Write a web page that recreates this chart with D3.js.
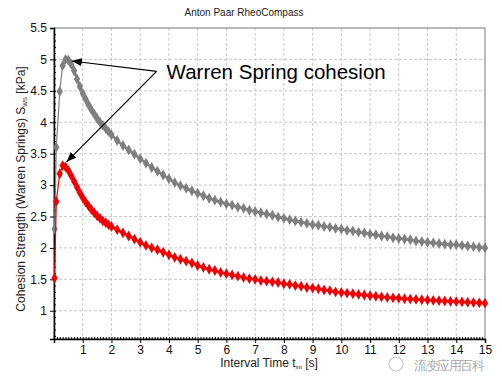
<!DOCTYPE html>
<meta charset="utf-8">
<script src="https://d3js.org/d3.v7.min.js"></script>
<style>
  body { margin: 0; background: #fff; }
  text { font-family: Arial, "Liberation Sans", sans-serif; }
</style>
<div id="chart"></div>
<script>

// interval time [s]
const times = [0.02, 0.08, 0.2, 0.3, 0.4, 0.5, 0.6, 0.7, 0.8, 0.9, 1.0, 1.1, 1.2, 1.3, 1.4, 1.5, 1.6, 1.7, 1.8, 1.9, 2.0,
  2.2, 2.4, 2.6, 2.8, 3.0, 3.2, 3.4, 3.6, 3.8, 4.0, 4.2, 4.4, 4.6, 4.8, 5.0, 5.2, 5.4, 5.6, 5.8, 6.0,
  6.2, 6.4, 6.6, 6.8, 7.0, 7.2, 7.4, 7.6, 7.8, 8.0, 8.2, 8.4, 8.6, 8.8, 9.0, 9.2, 9.4, 9.6, 9.8, 10.0,
  10.2, 10.4, 10.6, 10.8, 11.0, 11.2, 11.4, 11.6, 11.8, 12.0, 12.2, 12.4, 12.6, 12.8, 13.0, 13.2, 13.4, 13.6, 13.8, 14.0,
  14.2, 14.4, 14.6, 14.8, 15.0];

// cohesion strength [kPa], grey sample
const greySeries = [2.3, 3.6, 4.49, 4.90, 5.00, 4.99, 4.92, 4.82, 4.69, 4.57, 4.46, 4.37, 4.28, 4.20, 4.13, 4.06, 4.00, 3.95, 3.90, 3.85, 3.80,
  3.71, 3.63, 3.56, 3.49, 3.42, 3.35, 3.28, 3.22, 3.16, 3.10, 3.04, 2.99, 2.95, 2.91, 2.87, 2.83, 2.79, 2.76, 2.73, 2.70,
  2.68, 2.65, 2.63, 2.60, 2.58, 2.56, 2.54, 2.52, 2.49, 2.47, 2.45, 2.43, 2.41, 2.39, 2.37, 2.36, 2.34, 2.33, 2.31, 2.30,
  2.28, 2.27, 2.25, 2.24, 2.22, 2.21, 2.19, 2.18, 2.16, 2.15, 2.14, 2.13, 2.11, 2.10, 2.09, 2.08, 2.07, 2.06, 2.05, 2.05,
  2.04, 2.03, 2.02, 2.01, 2.00];

// cohesion strength [kPa], red sample
const redSeries = [1.52, 2.74, 3.18, 3.31, 3.29, 3.23, 3.15, 3.06, 2.97, 2.88, 2.80, 2.73, 2.67, 2.61, 2.56, 2.51, 2.47, 2.43, 2.40, 2.37, 2.34,
  2.29, 2.24, 2.19, 2.14, 2.09, 2.04, 2.00, 1.97, 1.93, 1.89, 1.85, 1.82, 1.79, 1.76, 1.72, 1.69, 1.66, 1.64, 1.61, 1.59,
  1.57, 1.55, 1.53, 1.51, 1.50, 1.48, 1.47, 1.46, 1.45, 1.43, 1.42, 1.40, 1.39, 1.37, 1.36, 1.35, 1.33, 1.32, 1.30, 1.29,
  1.28, 1.27, 1.26, 1.25, 1.24, 1.23, 1.22, 1.21, 1.205, 1.20, 1.19, 1.185, 1.18, 1.175, 1.17, 1.165, 1.16, 1.155, 1.15, 1.145,
  1.14, 1.135, 1.13, 1.125, 1.12];

const xTicks = [1, 2, 3, 4, 5, 6, 7, 8, 9, 10, 11, 12, 13, 14, 15];
const yTicks = [1, 1.5, 2, 2.5, 3, 3.5, 4, 4.5, 5, 5.5];

// annotation: label anchor and the two arrow tips, in data units
const noteFrom = [3.57, 4.81];
const noteTips = [[0.62, 4.975], [0.44, 3.37]];

const W = 502, H = 384;
const margin = {top: 28, right: 17, bottom: 45, left: 54};
const width = W - margin.left - margin.right,
      height = H - margin.top - margin.bottom;

const svg = d3.select("#chart").append("svg")
  .attr("width", W).attr("height", H);

svg.append("defs").append("marker")
    .attr("id", "arrow")
    .attr("markerUnits", "userSpaceOnUse")
    .attr("markerWidth", 10).attr("markerHeight", 8)
    .attr("viewBox", "0 0 10 8")
    .attr("refX", 10).attr("refY", 4)
    .attr("orient", "auto")
  .append("path")
    .attr("d", "M0,0 L10,4 L0,8 Z")
    .attr("fill", "#000");

const g = svg.append("g").attr("transform", `translate(${margin.left},${margin.top})`);

const x = d3.scaleLinear().domain([0, 15]).range([0, width]);
const y = d3.scaleLinear().domain([0.55, 5.5]).range([height, 0]);

// grid
g.append("g").selectAll("line").data(xTicks.slice(0, -1)).join("line")
  .attr("x1", d => x(d)).attr("x2", d => x(d))
  .attr("y1", 0).attr("y2", height)
  .attr("stroke", "#c8c8c8").attr("stroke-dasharray", "3,2");
g.append("g").selectAll("line").data(yTicks.slice(0, -1)).join("line")
  .attr("x1", 0).attr("x2", width)
  .attr("y1", d => y(d)).attr("y2", d => y(d))
  .attr("stroke", "#c8c8c8").attr("stroke-dasharray", "3,2");

// frame
g.append("rect")
  .attr("width", width).attr("height", height)
  .attr("fill", "none").attr("stroke", "#777").attr("stroke-width", 1);

// axes
const xAxis = g.append("g").attr("transform", `translate(0,${height})`)
  .call(d3.axisBottom(x).tickValues(xTicks).tickSize(4).tickFormat(d3.format("d")));
const xMinor = g.append("g").attr("transform", `translate(0,${height})`)
  .call(d3.axisTop(x).tickValues(d3.range(0.1, 15, 0.1)).tickSize(2).tickFormat(""));
const yAxis = g.append("g")
  .call(d3.axisLeft(y).tickValues(yTicks).tickSize(4).tickFormat(d => d));
const yMinor = g.append("g")
  .call(d3.axisRight(y).tickValues(d3.range(0.6, 5.5, 0.1)).tickSize(2).tickFormat(""));

[xAxis, yAxis].forEach(a => {
  a.select(".domain").attr("stroke", "#000").attr("stroke-width", 1.5);
  a.selectAll(".tick line").attr("stroke", "#000");
  a.selectAll("text").attr("font-size", 12).attr("fill", "#111")
    .attr("font-family", "Arial, 'Liberation Sans', sans-serif");
});
xAxis.selectAll("text").attr("y", 6).attr("dy", "0.71em");
[xMinor, yMinor].forEach(a => {
  a.select(".domain").remove();
  a.selectAll(".tick line").attr("stroke", "#000");
});

// series
const series = [
  {name: "grey", values: greySeries, color: "#7f7f7f"},
  {name: "red", values: redSeries, color: "#f00000"}
];
const line = d3.line().x((d, i) => x(times[i])).y(d => y(d));
const diamond = d3.symbol().type(d3.symbolDiamond).size(34);

series.forEach(s => {
  // thin connector for the rising part, thicker band for the decay
  g.append("path")
    .attr("d", line(s.values.slice(0, 4)))
    .attr("fill", "none").attr("stroke", s.color).attr("stroke-width", 1.2);
  const tail = s.values.slice(3);
  g.append("path")
    .attr("d", d3.line().x((d, i) => x(times[i + 3])).y(d => y(d))(tail))
    .attr("fill", "none").attr("stroke", s.color).attr("stroke-width", 2.6);
  g.append("g").selectAll("path").data(s.values).join("path")
    .attr("transform", (d, i) => `translate(${x(times[i])},${y(d)})`)
    .attr("d", diamond)
    .attr("fill", s.color);
});

// annotation
noteTips.forEach(t => {
  g.append("line")
    .attr("x1", x(noteFrom[0])).attr("y1", y(noteFrom[1]))
    .attr("x2", x(t[0])).attr("y2", y(t[1]))
    .attr("stroke", "#000").attr("stroke-width", 1.2)
    .attr("marker-end", "url(#arrow)");
});
g.append("text")
  .attr("x", x(noteFrom[0]) + 10).attr("y", y(noteFrom[1]) + 8)
  .attr("font-size", 20.5).attr("fill", "#000")
  .text("Warren Spring cohesion");

// titles
svg.append("text")
  .attr("x", 244).attr("y", 15.5).attr("text-anchor", "middle")
  .attr("font-size", 10).attr("fill", "#222")
  .text("Anton Paar RheoCompass");

const xl = svg.append("text")
  .attr("x", 269).attr("y", 367).attr("text-anchor", "middle")
  .attr("font-size", 12).attr("fill", "#222");
xl.append("tspan").text("Interval Time t");
xl.append("tspan").attr("font-size", 6).attr("dy", 2).text("int");
xl.append("tspan").attr("dy", -2).text(" [s]");

const yl = svg.append("text")
  .attr("transform", "translate(25,189) rotate(-90)")
  .attr("text-anchor", "middle")
  .attr("font-size", 12).attr("fill", "#222");
yl.append("tspan").text("Cohesion Strength (Warren Springs) S");
yl.append("tspan").attr("font-size", 6).attr("dy", 2).text("WS");
yl.append("tspan").attr("dy", -2).text(" [kPa]");

// watermark
svg.append("circle")
  .attr("cx", 396).attr("cy", 364).attr("r", 7)
  .attr("fill", "none").attr("stroke", "#c4c4c4").attr("stroke-width", 1.2);
svg.append("text")
  .attr("x", 414).attr("y", 370)
  .attr("font-size", 12.5).attr("fill", "#aaaaaa")
  .attr("textLength", 71)
  .attr("font-family", "'Noto Sans CJK SC', sans-serif")
  .text("流变应用百科");

</script>
